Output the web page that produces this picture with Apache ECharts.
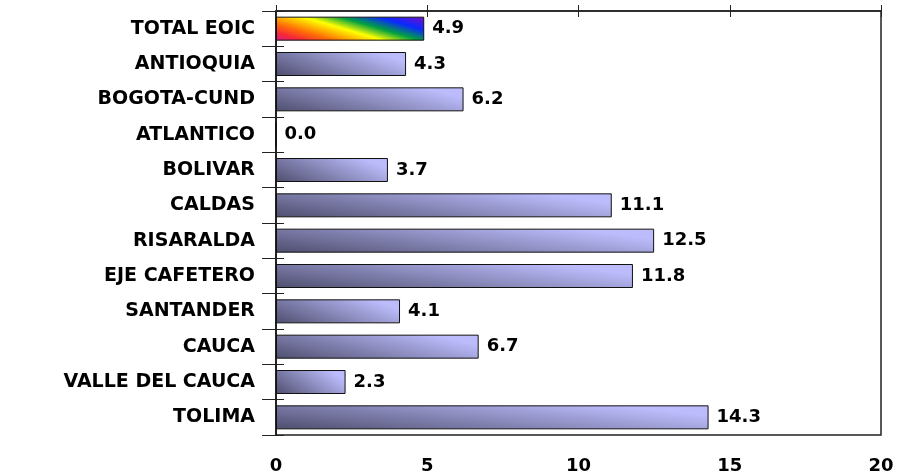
<!DOCTYPE html>
<html>
<head>
<meta charset="utf-8">
<script src="https://cdn.jsdelivr.net/npm/echarts@6/dist/echarts.min.js"></script>
<style>html,body{margin:0;padding:0;background:#fff}#c{width:899px;height:476px}</style>
</head>
<body>
<div id="c"></div>
<script>
var categories = ['TOTAL EOIC','ANTIOQUIA','BOGOTA-CUND','ATLANTICO','BOLIVAR','CALDAS','RISARALDA','EJE CAFETERO','SANTANDER','CAUCA','VALLE DEL CAUCA','TOLIMA'];
var values = [4.9, 4.3, 6.2, 0.0, 3.7, 11.1, 12.5, 11.8, 4.1, 6.7, 2.3, 14.3];
var xTicks = [0, 5, 10, 15, 20];

var FONT = '"DejaVu Sans", Verdana, sans-serif';
var BAR_H = 24, PX_PER_UNIT = 605 / 20;

// diagonal (bounding-box style) gradient: t = a*u + b*v, u across, v upward
function diagGradient(value, a, b, stops) {
  var w = Math.max(value * PX_PER_UNIT, 1), h = BAR_H;
  var x2 = a / (a * a + b * b * w * w / (h * h));
  var up = b / (a * a * h * h / (w * w) + b * b);
  return {type:'linear', x:0, y:1, x2:x2, y2:1 - up, colorStops:stops};
}
var rainbowStops = [
  {offset:0, color:'#e0188c'},{offset:0.12, color:'#f42838'},{offset:0.25, color:'#ff6a08'},
  {offset:0.36, color:'#ffb400'},{offset:0.47, color:'#ffff00'},{offset:0.63, color:'#00a040'},
  {offset:0.8, color:'#0a28ff'},{offset:1, color:'#7a10c8'}];
var lavStops = [{offset:0, color:'#4e4e6e'},{offset:0.95, color:'#bcbcfc'},{offset:1, color:'#bcbcfc'}];

var data = values.map(function(v,i){
  return {value:v, itemStyle:{color: i===0 ? diagGradient(v, 0.645, 0.355, rainbowStops)
                                          : diagGradient(v, 0.74, 0.37, lavStops)}};
});

var chart = echarts.init(document.getElementById('c'));
chart.setOption({
  animation:false,
  grid:{left:276, right:18, top:11, bottom:41, show:true, borderColor:'#222', borderWidth:1.5, backgroundColor:'#fff'},
  xAxis:[
    {type:'value', min:xTicks[0], max:xTicks[xTicks.length-1], interval:5, position:'bottom',
     axisLine:{show:false}, axisTick:{show:false}, splitLine:{show:false},
     axisLabel:{margin:22, fontFamily:FONT, fontWeight:'bold', fontSize:18, color:'#000'}},
    {type:'value', min:0, max:20, interval:5, position:'top',
     axisLine:{show:true, lineStyle:{color:'#222', width:1.5}}, axisTick:{show:true, length:6, lineStyle:{color:'#222'}},
     axisLabel:{show:false}, splitLine:{show:false}},
    {type:'value', min:0, max:20, interval:5, position:'top',
     axisLine:{show:false}, axisTick:{show:true, inside:true, length:6, lineStyle:{color:'#222'}},
     axisLabel:{show:false}, splitLine:{show:false}}
  ],
  yAxis:[
    {type:'category', data:categories, inverse:true,
     axisLine:{show:true, lineStyle:{color:'#111', width:1.5}},
     axisTick:{show:true, length:14, lineStyle:{color:'#222'}},
     axisLabel:{margin:21, fontFamily:FONT, fontWeight:'bold', fontSize:19, color:'#000'}},
    {type:'category', data:categories, inverse:true, position:'left',
     axisLine:{show:false}, axisTick:{show:true, inside:true, length:8, lineStyle:{color:'#222'}},
     axisLabel:{show:false}}
  ],
  series:[{
    type:'bar', data:data, barWidth:BAR_H, xAxisIndex:0, yAxisIndex:0,
    itemStyle:{borderColor:'#111', borderWidth:1},
    label:{show:true, position:'right', distance:8, fontFamily:FONT, fontWeight:'bold', fontSize:18, color:'#000',
      formatter:function(p){return p.value.toFixed(1);}}
  }]
});
</script>
</body>
</html>
